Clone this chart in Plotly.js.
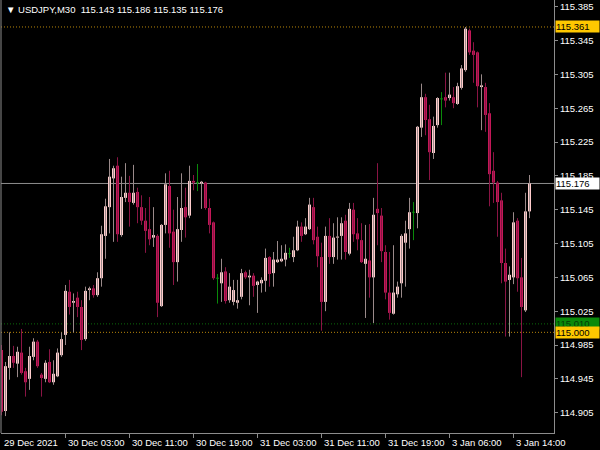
<!DOCTYPE html>
<html><head><meta charset="utf-8">
<script src="https://cdn.plot.ly/plotly-3.0.1.min.js"></script>
<style>html,body{margin:0;padding:0;background:#000;}#chart{width:600px;height:450px;}</style>
</head><body><div id="chart"></div>
<script>
const symbol = "USDJPY,M30";
const xLabelIdx = [0, 16, 32, 48, 64, 80, 96, 112, 128];
const xLabelText = ["29 Dec 2021", "30 Dec 03:00", "30 Dec 11:00", "30 Dec 19:00", "31 Dec 03:00", "31 Dec 11:00", "31 Dec 19:00", "3 Jan 06:00", "3 Jan 14:00"];

const open = [114.979,114.907,114.958,114.972,114.963,114.976,114.954,114.945,114.971,114.989,
114.950,114.945,114.965,114.941,114.948,114.973,114.997,115.048,115.035,115.041,
115.030,114.992,115.050,115.052,115.044,115.064,115.114,115.148,115.182,115.197,
115.115,115.159,115.165,115.153,115.166,115.148,115.132,115.122,115.112,115.114,
115.031,115.127,115.173,115.119,115.083,115.121,115.148,115.138,115.179,115.177,
115.176,115.177,115.147,115.130,115.064,115.058,115.072,115.038,115.036,115.035,
115.042,115.071,115.065,115.067,115.056,115.058,115.061,115.089,115.070,115.083,
115.084,115.086,115.093,115.089,115.097,115.125,115.116,115.122,115.148,115.113,
115.089,115.036,115.114,115.089,115.112,115.114,115.132,115.093,115.145,115.117,
115.109,115.081,115.085,115.065,115.146,115.138,115.095,115.047,115.022,115.045,
115.058,115.106,115.122,115.142,115.141,115.242,115.278,115.252,115.212,115.245,
115.276,115.278,115.277,115.278,115.270,115.289,115.310,115.357,115.333,115.331,
115.290,115.290,115.259,115.191,115.177,115.156,115.082,115.062,115.065,115.132,
115.065,115.026,115.143];
const high = [114.985,114.965,115.000,114.984,114.983,115.004,114.958,114.983,114.993,114.991,
114.952,114.967,114.980,114.967,114.981,115.000,115.056,115.062,115.046,115.048,
115.038,115.054,115.054,115.056,115.071,115.126,115.158,115.205,115.197,115.207,
115.184,115.200,115.185,115.198,115.171,115.162,115.147,115.160,115.148,115.116,
115.128,115.188,115.191,115.145,115.160,115.188,115.171,115.197,115.186,115.199,
115.179,115.178,115.158,115.131,115.069,115.087,115.077,115.070,115.062,115.062,
115.075,115.073,115.074,115.070,115.061,115.065,115.099,115.090,115.095,115.108,
115.103,115.104,115.100,115.113,115.132,115.130,115.135,115.159,115.159,115.125,
115.106,115.125,115.135,115.129,115.136,115.136,115.139,115.153,115.153,115.135,
115.129,115.127,115.128,115.159,115.200,115.147,115.103,115.095,115.103,115.060,
115.116,115.132,115.159,115.154,115.244,115.294,115.282,115.269,115.255,115.278,
115.284,115.307,115.307,115.290,115.295,115.316,115.361,115.359,115.343,115.332,
115.305,115.295,115.271,115.213,115.179,115.165,115.099,115.078,115.142,115.135,
115.088,115.165,115.186];
const low = [114.902,114.901,114.944,114.958,114.947,114.950,114.924,114.932,114.967,114.958,
114.924,114.941,114.940,114.938,114.947,114.971,114.985,115.021,115.000,115.018,
114.979,114.990,115.038,115.041,115.042,115.054,115.087,115.117,115.107,115.107,
115.113,115.154,115.125,115.151,115.129,115.127,115.094,115.103,115.101,115.018,
115.030,115.117,115.100,115.056,115.060,115.107,115.112,115.135,115.168,115.167,
115.146,115.145,115.117,115.062,115.034,115.036,115.034,115.035,115.032,115.028,
115.039,115.063,115.032,115.042,115.023,115.047,115.048,115.054,115.054,115.082,
115.083,115.078,115.088,115.083,115.096,115.107,115.115,115.121,115.104,115.077,
115.002,115.025,115.081,115.081,115.086,115.086,115.086,115.091,115.107,115.097,
115.082,115.017,115.041,115.011,115.103,115.083,115.039,115.015,115.021,115.041,
115.041,115.054,115.099,115.109,115.123,115.231,115.233,115.180,115.205,115.242,
115.245,115.266,115.274,115.265,115.269,115.287,115.308,115.328,115.295,115.266,
115.239,115.237,115.149,115.153,115.113,115.058,114.995,114.995,115.057,115.048,
114.947,115.024,115.135];
const close = [114.906,114.960,114.972,114.964,114.977,114.952,114.941,114.972,114.989,114.960,
114.946,114.964,114.941,114.951,114.976,114.992,115.049,115.030,115.037,115.030,
114.991,115.049,115.052,115.044,115.064,115.116,115.149,115.184,115.194,115.116,
115.160,115.165,115.154,115.165,115.148,115.132,115.120,115.110,115.115,115.035,
115.127,115.175,115.117,115.083,115.122,115.147,115.136,115.179,115.177,115.177,
115.178,115.147,115.127,115.064,115.064,115.071,115.037,115.054,115.050,115.038,
115.070,115.065,115.067,115.055,115.060,115.062,115.088,115.069,115.086,115.086,
115.087,115.094,115.093,115.097,115.125,115.114,115.125,115.151,115.109,115.090,
115.036,115.114,115.089,115.112,115.113,115.129,115.095,115.146,115.116,115.110,
115.083,115.087,115.065,115.139,115.141,115.096,115.047,115.023,115.047,115.054,
115.114,115.117,115.142,115.142,115.243,115.278,115.251,115.213,115.244,115.277,
115.276,115.274,115.281,115.271,115.291,115.312,115.359,115.331,115.328,115.291,
115.292,115.257,115.187,115.177,115.154,115.082,115.060,115.068,115.130,115.064,
115.030,115.143,115.176];

// horizontal levels: price and kind
const levelPrice = [115.361, 115.176, 115.010, 115.000];
const levelKind = ["gold", "bid", "green", "gold"];

const C_UP_BODY = '#FFCCCC', C_DN_BODY = '#C41858', C_DOJI = '#0A8A0A';
const C_UP_WICK = '#9A8A8A', C_DN_WICK = '#8A1444';
const FONT = 'Liberation Sans, Arial, sans-serif';
const GRAY = '#8c8c8c';

const idx = open.map((_, i) => i);
function wickTrace(filter, color) {
  const xs = [], ys = [];
  idx.forEach(i => { if (filter(i)) { xs.push(i, i, null); ys.push(low[i], high[i], null); } });
  return {type: 'scatter', mode: 'lines', x: xs, y: ys, line: {color: color, width: 1}, hoverinfo: 'skip', connectgaps: false};
}
const isDoji = i => open[i] === close[i];
const isUp = i => close[i] > open[i];
const isDn = i => close[i] < open[i];

const minH = 0.0012;
const bases = idx.map(i => isDoji(i) ? open[i] - minH / 2 : Math.min(open[i], close[i]));
const heights = idx.map(i => Math.max(Math.abs(close[i] - open[i]), minH));
const colors = idx.map(i => isDoji(i) ? C_DOJI : (isUp(i) ? C_UP_BODY : C_DN_BODY));

const traces = [
  wickTrace(isUp, C_UP_WICK),
  wickTrace(isDn, C_DN_WICK),
  wickTrace(isDoji, C_DOJI),
  {type: 'bar', x: idx, y: heights, base: bases, width: 0.75,
   marker: {color: colors, line: {width: 0}}, hoverinfo: 'skip'}
];

const levelStyle = {
  gold: {line: '#B8860B', dash: '1px,2px', box: '#FFC800', text: '#000'},
  bid: {line: GRAY, dash: 'solid', box: '#FFFFFF', text: '#000'},
  green: {line: '#0B6B0B', dash: '1px,2px', box: '#0A8A0A', text: '#063806'}
};

const shapes = [
  {type: 'line', xref: 'paper', yref: 'paper', x0: 0, x1: 0, y0: 0, y1: 1, line: {color: GRAY, width: 1}}
];
const annotations = [];
levelPrice.forEach((p, k) => {
  const st = levelStyle[levelKind[k]];
  shapes.push({type: 'line', xref: 'paper', yref: 'y', x0: 0, x1: 1, y0: p, y1: p, layer: 'below',
    line: {color: st.line, width: 1, dash: st.dash}});
});
levelPrice.forEach((p, k) => {
  const st = levelStyle[levelKind[k]];
  annotations.push({xref: 'paper', yref: 'y', x: 1, y: p, xanchor: 'left', yanchor: 'middle', xshift: 1,
    text: p.toFixed(3), showarrow: false, bgcolor: st.box, borderpad: 0, width: 43, height: 11, align: 'left',
    font: {family: FONT, size: 9.5, color: st.text}});
});
xLabelIdx.forEach((b, k) => {
  annotations.push({xref: 'x', yref: 'paper', x: b, y: 0, xanchor: 'left', yanchor: 'top', yshift: -2, xshift: 0,
    text: xLabelText[k], showarrow: false, font: {family: FONT, size: 9.5, color: '#FFFFFF'}});
});
const last = open.length - 1;
annotations.push({xref: 'paper', yref: 'paper', x: 0, y: 1, xanchor: 'left', yanchor: 'top', xshift: 3, yshift: -2,
  showarrow: false, font: {family: FONT, size: 9.5, color: '#FFFFFF'},
  text: '\u25BC\u00a0' + symbol + '\u00a0\u00a0' + [open[last], high[last], low[last], close[last]].map(v => v.toFixed(3)).join(' ')});

const layout = {
  width: 600, height: 450,
  paper_bgcolor: '#000', plot_bgcolor: '#000',
  margin: {l: 1, r: 46, t: 0, b: 17, pad: 0},
  showlegend: false, barmode: 'overlay',
  xaxis: {range: [-0.125, 138.125], showgrid: false, zeroline: false, showline: true, linecolor: GRAY, linewidth: 1,
    ticks: 'outside', ticklen: 4, tickcolor: GRAY, tickvals: xLabelIdx.slice(1), showticklabels: false, fixedrange: true},
  yaxis: {side: 'right', range: [114.8810, 115.3929], tick0: 114.905, dtick: 0.04, tickformat: '.3f',
    showgrid: false, zeroline: false, showline: true, linecolor: GRAY, linewidth: 1,
    ticks: 'outside', ticklen: 3, tickcolor: GRAY, fixedrange: true,
    tickfont: {family: FONT, size: 9.5, color: '#FFFFFF'}},
  shapes: shapes, annotations: annotations
};
Plotly.newPlot('chart', traces, layout, {displayModeBar: false, staticPlot: true});
</script></body></html>
